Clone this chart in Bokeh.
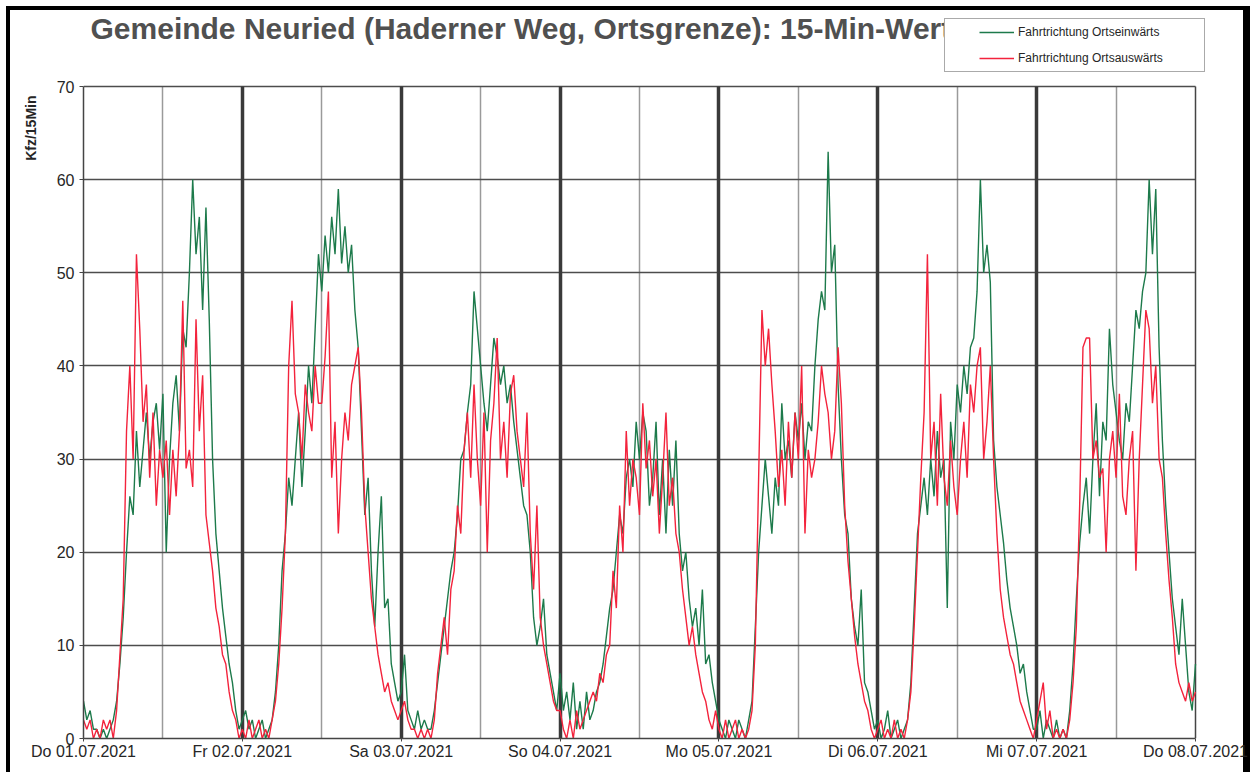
import math
from bokeh.plotting import figure
from bokeh.models import FixedTicker, Grid, Label, Legend, LegendItem, Range1d, Title
from bokeh.embed import file_html
from bokeh.resources import INLINE

# ---------------- texts ----------------
TITLE = "Gemeinde Neuried (Haderner Weg, Ortsgrenze): 15-Min-Werte"
Y_LABEL = "Kfz/15Min"
SERIES_NAMES = ["Fahrtrichtung Ortseinwärts", "Fahrtrichtung Ortsauswärts"]
DAY_LABELS = ["Do 01.07.2021", "Fr 02.07.2021", "Sa 03.07.2021", "So 04.07.2021",
              "Mo 05.07.2021", "Di 06.07.2021", "Mi 07.07.2021", "Do 08.07.2021"]
DAY_TICKS_H = [0, 24, 48, 72, 96, 120, 144, 168]
NOON_TICKS_H = [12, 36, 60, 84, 108, 132, 156]
Y_TICKS = [0, 10, 20, 30, 40, 50, 60, 70]
STEP_H = 0.5  # values read every 30 minutes

# ---------------- values (Kfz per 15 min) ----------------
# Fahrtrichtung Ortseinwärts (green), one list per day, 00:00 .. 23:30
ein_d1 = [4, 2, 3, 1, 1, 0, 1, 0, 1, 2, 4, 8, 13, 20, 26, 24,
          33, 27, 31, 35, 30, 34, 36, 31, 37, 20, 30, 36, 39, 33, 44, 42,
          50, 60, 52, 56, 46, 57, 45, 30, 22, 18, 14, 11, 8, 6, 3, 1]
ein_d2 = [2, 3, 1, 2, 0, 1, 2, 0, 1, 2, 5, 10, 18, 22, 28, 25,
          30, 35, 27, 33, 40, 36, 44, 52, 48, 54, 50, 56, 52, 59, 51, 55,
          50, 53, 46, 42, 33, 24, 28, 18, 12, 20, 26, 14, 15, 8, 6, 4]
ein_d3 = [5, 9, 3, 2, 1, 3, 1, 2, 1, 1, 3, 6, 9, 12, 15, 18,
          20, 24, 30, 31, 35, 38, 48, 44, 40, 36, 33, 38, 43, 41, 38, 40,
          36, 38, 34, 31, 28, 25, 24, 20, 13, 10, 12, 15, 9, 7, 5, 3]
ein_d4 = [7, 3, 5, 2, 6, 1, 4, 1, 5, 2, 3, 5, 6, 8, 11, 14,
          16, 20, 24, 22, 28, 30, 27, 34, 30, 35, 33, 25, 28, 34, 24, 30,
          22, 31, 25, 32, 22, 18, 20, 15, 12, 14, 10, 16, 8, 9, 6, 4]
ein_d5 = [2, 1, 0, 2, 1, 0, 2, 1, 0, 2, 4, 12, 20, 25, 30, 26,
          22, 28, 25, 36, 30, 32, 28, 35, 32, 36, 30, 34, 33, 40, 45, 48,
          46, 63, 50, 53, 38, 30, 24, 22, 15, 12, 10, 16, 6, 5, 3, 1]
ein_d6 = [2, 0, 1, 3, 0, 1, 2, 0, 1, 2, 6, 14, 22, 25, 28, 24,
          30, 26, 33, 28, 30, 14, 34, 30, 38, 35, 40, 37, 42, 43, 48, 60,
          50, 53, 49, 32, 27, 24, 21, 17, 14, 12, 10, 7, 8, 5, 3, 1]
ein_d7 = [1, 3, 0, 2, 1, 0, 2, 0, 1, 0, 3, 8, 15, 21, 25, 28,
          22, 30, 36, 26, 34, 32, 44, 38, 35, 32, 30, 36, 34, 40, 46, 44,
          48, 50, 60, 52, 59, 42, 32, 25, 20, 15, 12, 9, 15, 10, 5, 3]
ein_end = [8]  # Do 08.07.2021 00:00

# Fahrtrichtung Ortsauswärts (red)
aus_d1 = [2, 1, 2, 0, 1, 0, 2, 1, 2, 0, 3, 9, 15, 33, 40, 30,
          52, 44, 34, 38, 28, 35, 25, 31, 28, 32, 24, 31, 26, 33, 47, 29,
          31, 27, 45, 33, 39, 24, 21, 18, 14, 12, 9, 8, 5, 3, 2, 0]
aus_d2 = [1, 0, 2, 0, 1, 2, 0, 1, 0, 2, 4, 8, 14, 22, 40, 47,
          37, 35, 30, 38, 35, 33, 40, 36, 36, 41, 48, 28, 34, 22, 30, 35,
          32, 38, 40, 42, 35, 25, 20, 15, 12, 9, 7, 5, 6, 4, 3, 2]
aus_d3 = [3, 4, 2, 1, 1, 0, 1, 0, 1, 0, 2, 7, 10, 13, 9, 16,
          18, 25, 22, 31, 35, 28, 38, 30, 25, 35, 20, 32, 36, 43, 30, 34,
          28, 37, 39, 33, 30, 27, 35, 22, 16, 25, 13, 10, 8, 6, 4, 3]
aus_d4 = [3, 1, 0, 2, 0, 3, 1, 2, 3, 4, 5, 4, 7, 6, 9, 10,
          18, 14, 25, 20, 33, 25, 30, 28, 24, 36, 29, 32, 26, 30, 22, 28,
          35, 25, 28, 22, 20, 16, 13, 10, 12, 9, 7, 5, 4, 2, 1, 3]
aus_d5 = [1, 0, 2, 0, 1, 2, 0, 1, 0, 1, 3, 10, 28, 46, 40, 44,
          38, 33, 27, 31, 25, 34, 28, 35, 30, 40, 22, 31, 28, 30, 34, 40,
          37, 35, 30, 33, 42, 36, 25, 19, 15, 11, 8, 6, 4, 3, 1, 0]
aus_d6 = [1, 2, 0, 1, 0, 2, 0, 1, 0, 2, 5, 12, 20, 28, 35, 52,
          30, 34, 25, 37, 28, 25, 32, 27, 24, 30, 34, 28, 38, 35, 40, 42,
          30, 34, 40, 30, 22, 16, 13, 11, 9, 8, 6, 4, 3, 2, 1, 0]
aus_d7 = [2, 4, 6, 1, 3, 0, 1, 0, 1, 0, 2, 6, 12, 25, 42, 43,
          43, 30, 32, 28, 29, 20, 30, 33, 28, 37, 26, 24, 30, 33, 18, 30,
          38, 46, 44, 36, 40, 30, 28, 22, 17, 13, 8, 6, 5, 4, 6, 4]
aus_end = [5]

ein = ein_d1 + ein_d2 + ein_d3 + ein_d4 + ein_d5 + ein_d6 + ein_d7 + ein_end
aus = aus_d1 + aus_d2 + aus_d3 + aus_d4 + aus_d5 + aus_d6 + aus_d7 + aus_end
hours = [i * STEP_H for i in range(len(ein))]

# ---------------- layout / style ----------------
FONT = "Liberation Sans"
GREEN = "#1d7a4b"
RED = "#f3233c"
X_MAX, Y_MAX = DAY_TICKS_H[-1], Y_TICKS[-1]
X_END = 174.8   # room right of the data area for the legend box
Y_END = 78.16   # room above the data area for title and legend

p = figure(width=1250, height=772, x_range=Range1d(0, X_END), y_range=Range1d(0, Y_END),
           output_backend="svg", toolbar_location=None, title=None,
           min_border_left=83, min_border_right=10, min_border_top=10, min_border_bottom=34)
p.background_fill_color = "white"
p.border_fill_alpha = 0
p.outline_line_color = None
p.styles = {"box-shadow": "inset 6px 6px 0 0 #fff, inset 10px 10px 0 0 #000, inset -7px 0 0 0 #000"}

# axes
p.xaxis.ticker = FixedTicker(ticks=DAY_TICKS_H)
p.xaxis.major_label_overrides = {t: lab for t, lab in zip(DAY_TICKS_H, DAY_LABELS)}
p.xaxis.bounds = (0, X_MAX)
p.yaxis.ticker = FixedTicker(ticks=Y_TICKS)
p.yaxis.bounds = (0, Y_MAX)
for ax in (p.xaxis[0], p.yaxis[0]):
    ax.major_label_text_font = FONT
    ax.major_label_text_font_size = "16px"
    ax.major_label_text_color = "#262626"
    ax.axis_line_color = "#444444"
    ax.axis_line_width = 1.5
    ax.major_tick_line_color = "#444444"
    ax.major_tick_in = 0
    ax.minor_tick_line_color = None
p.xaxis.major_tick_out = 3
p.xaxis.major_label_standoff = 1
p.yaxis.major_tick_out = 4
p.yaxis.major_label_standoff = 5

# grids, limited to the data area
HAS_CROSS = "cross_bounds" in Grid.properties()
p.xgrid.visible = False
p.ygrid.visible = False


def add_grid(dim, ticks, color, width):
    if HAS_CROSS:
        g = Grid(dimension=dim, ticker=FixedTicker(ticks=ticks), grid_line_color=color,
                 grid_line_width=width,
                 cross_bounds=(0, Y_MAX) if dim == 0 else (0, X_MAX))
        p.add_layout(g)
    else:
        if dim == 0:
            p.segment(x0=ticks, y0=[0] * len(ticks), x1=ticks, y1=[Y_MAX] * len(ticks),
                      line_color=color, line_width=width, level="underlay")
        else:
            p.segment(x0=[0] * len(ticks), y0=ticks, x1=[X_MAX] * len(ticks), y1=ticks,
                      line_color=color, line_width=width, level="underlay")


add_grid(0, NOON_TICKS_H, "#9a9a9a", 1.5)
add_grid(1, Y_TICKS, "#4d4d4d", 1.5)
add_grid(0, DAY_TICKS_H[1:-1], "#3a3a3a", 3.5)
add_grid(0, [X_MAX], "#444444", 1.5)

# data lines
r_ein = p.line(hours, ein, line_color=GREEN, line_width=1.4)
r_aus = p.line(hours, aus, line_color=RED, line_width=1.4)

# title (partly hidden behind the legend box, as in the original)
title = Label(x=7, y=710, x_units="screen", y_units="screen", text=TITLE,
              text_font=FONT, text_font_size="30px", text_font_style="bold",
              text_color="#505050", text_baseline="alphabetic", text_align="left")
p.add_layout(title)

# y axis label, top aligned, left of the tick labels
ytitle = Title(text=Y_LABEL, align="right", offset=85, standoff=30,
               text_font=FONT, text_font_size="14px", text_font_style="bold",
               text_color="#262626")
p.add_layout(ytitle, "left")

legend = Legend(items=[LegendItem(label=SERIES_NAMES[0], renderers=[r_ein]),
                       LegendItem(label=SERIES_NAMES[1], renderers=[r_aus])],
                location=(861, 666))
legend.label_standoff = 4
legend.glyph_width = 35
_pad_ok = False
for _pad in (dict(left=34, right=34, top=4, bottom=4), (34, 34, 4, 4)):
    try:
        legend.padding = _pad
        _pad_ok = True
        break
    except Exception:
        pass
if not _pad_ok:
    legend.padding = 4
    legend.glyph_width = 66
legend.margin = 0
legend.spacing = 8
legend.glyph_height = 18
legend.label_height = 18
legend.label_width = 152
legend.label_text_font = FONT
legend.label_text_font_size = "12px"
legend.label_text_color = "#262626"
legend.border_line_color = "#555555"
legend.border_line_width = 1
legend.background_fill_color = "white"
legend.background_fill_alpha = 1.0
p.add_layout(legend)

open("out.html", "w").write(file_html(p, INLINE))
